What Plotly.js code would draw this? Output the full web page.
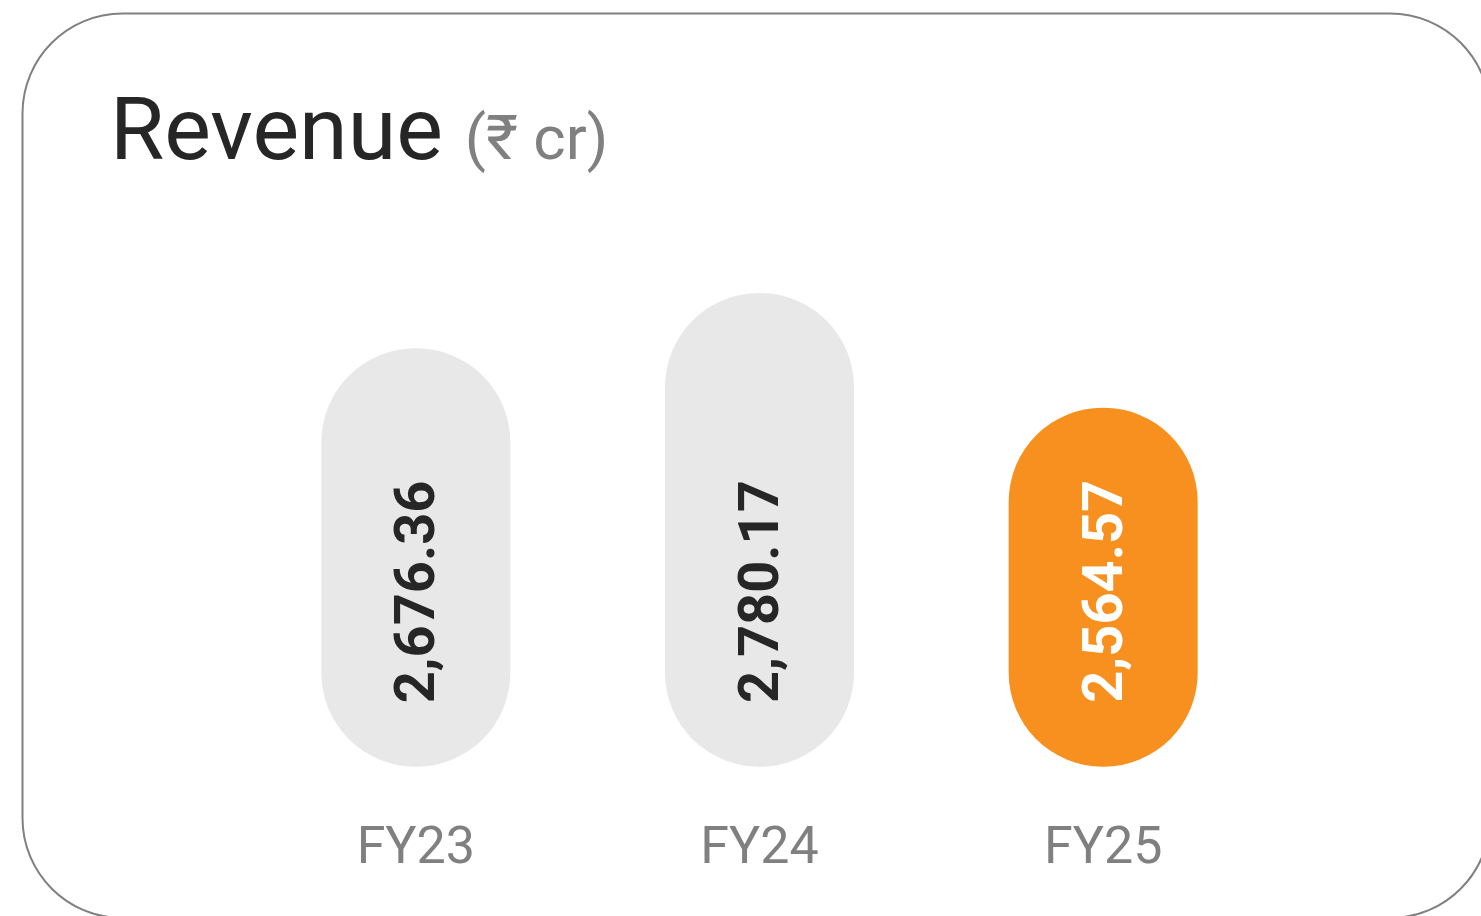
<!DOCTYPE html>
<html>
<head>
<meta charset="utf-8">
<script src="https://cdn.plot.ly/plotly-3.0.1.min.js"></script>
<style>
  html, body { margin: 0; padding: 0; background: #ffffff; }
  #chart { width: 1481px; height: 916px; }
</style>
</head>
<body>
<div id="chart"></div>
<script>
// ---- data ----
const categories = ['FY23', 'FY24', 'FY25'];
const revenue = [2676.36, 2780.17, 2564.57];
const barColors = ['#e8e8e8', '#e8e8e8', '#f7901e'];
const labelColors = ['#262626', '#262626', '#ffffff'];
const titleMain = 'Revenue';
const titleUnit = '(₹ cr)';

// ---- layout constants ----
const W = 1481, H = 916;
const M = { l: 244, r: 206, t: 176, b: 128 };
const PW = W - M.l - M.r, PH = H - M.t - M.b;
const Y_MIN = 1850, Y_MAX = 3000;   // axis range
const BAR_FLOOR = 1890;             // bottom of the pills (axis value)
const LABEL_Y = 2006;

const toPX = px => (px - M.l) / PW;
const toPY = py => (H - M.b - py) / PH;

// card border path (paper coords)
function cardPath(x0, y0, x1, y1, r) {
  const k = 0.5523 * r;
  const P = (x, y) => toPX(x) + ',' + toPY(y);
  return 'M' + P(x0 + r, y0) +
    ' L' + P(x1 - r, y0) +
    ' C' + P(x1 - r + k, y0) + ' ' + P(x1, y0 + r - k) + ' ' + P(x1, y0 + r) +
    ' L' + P(x1, y1 - r) +
    ' C' + P(x1, y1 - r + k) + ' ' + P(x1 - r + k, y1) + ' ' + P(x1 - r, y1) +
    ' L' + P(x0 + r, y1) +
    ' C' + P(x0 + r - k, y1) + ' ' + P(x0, y1 - r + k) + ' ' + P(x0, y1 - r) +
    ' L' + P(x0, y0 + r) +
    ' C' + P(x0, y0 + r - k) + ' ' + P(x0 + r - k, y0) + ' ' + P(x0 + r, y0) + ' Z';
}

const fmt = v => v.toLocaleString('en-US', { minimumFractionDigits: 2, maximumFractionDigits: 2 });

const pills = {
  type: 'bar',
  x: categories,
  base: categories.map(() => BAR_FLOOR),
  y: revenue.map(v => v - BAR_FLOOR),
  marker: { color: barColors, cornerradius: '50%', line: { width: 0 } },
  hoverinfo: 'skip',
  showlegend: false
};

const annotations = [
  {
    xref: 'paper', yref: 'paper',
    x: toPX(108), y: toPY(128),
    xanchor: 'left', yanchor: 'middle',
    showarrow: false,
    text: titleMain + ' <span style="font-size:62px;color:#808080">' + titleUnit + '</span>',
    font: { family: 'Roboto, sans-serif', size: 88, color: '#262626' }
  }
].concat(categories.map((c, i) => ({
  xref: 'x', yref: 'y',
  x: c, y: LABEL_Y,
  xanchor: 'center', yanchor: 'bottom',
  textangle: -90,
  showarrow: false,
  text: fmt(revenue[i]),
  font: { family: 'Roboto, sans-serif', size: 56, color: labelColors[i], weight: 700 }
})));

const layout = {
  width: W, height: H,
  margin: M,
  paper_bgcolor: '#ffffff',
  plot_bgcolor: 'rgba(0,0,0,0)',
  bargap: 0.45,
  showlegend: false,
  xaxis: {
    type: 'category',
    showgrid: false, zeroline: false, showline: false, ticks: '',
    tickfont: { family: 'Roboto, sans-serif', size: 52, color: '#808080' },
    ticklabelstandoff: 22,
    fixedrange: true
  },
  yaxis: {
    range: [Y_MIN, Y_MAX],
    visible: false,
    fixedrange: true
  },
  shapes: [{
    type: 'path', xref: 'paper', yref: 'paper', layer: 'below',
    path: cardPath(22.5, 13.5, 1490, 918, 100),
    line: { color: '#808080', width: 2 },
    fillcolor: 'rgba(0,0,0,0)'
  }],
  annotations: annotations
};

Plotly.newPlot('chart', [pills], layout, { displayModeBar: false, staticPlot: true });
</script>
</body>
</html>
